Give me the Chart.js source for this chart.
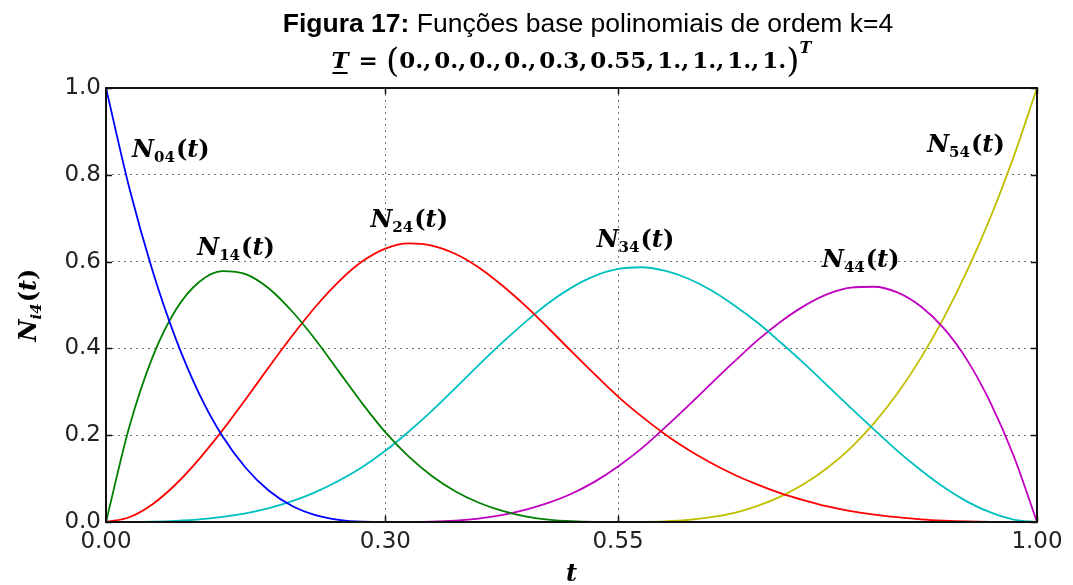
<!DOCTYPE html>
<html>
<head>
<meta charset="utf-8">
<script src="https://cdn.jsdelivr.net/npm/chart.js@4.4.1/dist/chart.umd.min.js"></script>
<style>
  html, body { margin: 0; padding: 0; background: #ffffff; overflow: hidden; }
  #wrap { width: 1073px; height: 585px; position: relative; }
</style>
</head>
<body>
<div id="wrap"><canvas id="chart" width="1073" height="585"></canvas></div>
<script>
// Parameter values t at which the basis functions are tabulated
const tValues = [0, 0.025, 0.05, 0.075, 0.1, 0.125, 0.15, 0.175, 0.2, 0.225,
                 0.25, 0.275, 0.3, 0.325, 0.35, 0.375, 0.4, 0.425, 0.45, 0.475,
                 0.5, 0.525, 0.55, 0.575, 0.6, 0.625, 0.65, 0.675, 0.7, 0.725,
                 0.75, 0.775, 0.8, 0.825, 0.85, 0.875, 0.9, 0.925, 0.95, 0.975, 1];

// Cubic B-spline basis functions N_i4(t), knot vector (0,0,0,0,0.3,0.55,1,1,1,1)
const n04 = [1, 0.770, 0.579, 0.422, 0.296, 0.198, 0.125, 0.072, 0.037, 0.016,
             0.005, 0.0006, 0, 0, 0, 0, 0, 0, 0, 0,
             0, 0, 0, 0, 0, 0, 0, 0, 0, 0,
             0, 0, 0, 0, 0, 0, 0, 0, 0, 0, 0];
const n14 = [0, 0.219, 0.380, 0.489, 0.553, 0.578, 0.571, 0.538, 0.485, 0.420,
             0.347, 0.274, 0.207, 0.151, 0.106, 0.071, 0.045, 0.026, 0.013, 0.0056,
             0.0017, 0.0002, 0, 0, 0, 0, 0, 0, 0, 0,
             0, 0, 0, 0, 0, 0, 0, 0, 0, 0, 0];
const n24 = [0, 0.011, 0.041, 0.087, 0.145, 0.211, 0.283, 0.357, 0.429, 0.496,
             0.554, 0.600, 0.630, 0.642, 0.637, 0.618, 0.587, 0.546, 0.499, 0.447,
             0.393, 0.340, 0.289, 0.244, 0.203, 0.167, 0.136, 0.109, 0.086, 0.066,
             0.050, 0.036, 0.025, 0.017, 0.011, 0.0062, 0.0032, 0.0013, 0.0004, 0.00005, 0];
const n34 = [0, 0.0001, 0.0008, 0.0026, 0.006, 0.012, 0.020, 0.032, 0.048, 0.069,
             0.095, 0.126, 0.164, 0.208, 0.256, 0.308, 0.361, 0.412, 0.460, 0.504,
             0.540, 0.567, 0.583, 0.587, 0.579, 0.561, 0.534, 0.499, 0.459, 0.413,
             0.365, 0.314, 0.263, 0.213, 0.164, 0.120, 0.080, 0.047, 0.022, 0.0057, 0];
const n44 = [0, 0, 0, 0, 0, 0, 0, 0, 0, 0,
             0, 0, 0, 0.0001, 0.001, 0.0034, 0.008, 0.016, 0.028, 0.044,
             0.065, 0.093, 0.128, 0.169, 0.217, 0.267, 0.319, 0.370, 0.419, 0.462,
             0.498, 0.525, 0.540, 0.542, 0.529, 0.497, 0.446, 0.373, 0.275, 0.152, 0];
const n54 = [0, 0, 0, 0, 0, 0, 0, 0, 0, 0,
             0, 0, 0, 0, 0, 0, 0, 0, 0, 0,
             0, 0, 0, 0.0002, 0.0014, 0.0046, 0.011, 0.021, 0.037, 0.059,
             0.088, 0.125, 0.171, 0.228, 0.296, 0.377, 0.471, 0.579, 0.702, 0.842, 1];

// Axis ticks: the x ticks sit on the distinct knot values
const xTickValues = [0, 0.3, 0.55, 1.0];
const xTickLabels = ['0.00', '0.30', '0.55', '1.00'];
const yTickValues = [0, 0.2, 0.4, 0.6, 0.8, 1.0];
const yTickLabels = ['0.0', '0.2', '0.4', '0.6', '0.8', '1.0'];

// Curve names (subscripts) and colours
const seriesSubs = ['04', '14', '24', '34', '44', '54'];
const seriesColors = ['#0000ff', '#008000', '#ff0000', '#00bfbf', '#bf00bf', '#bfbf00'];
const seriesValues = [n04, n14, n24, n34, n44, n54];

// Where each curve name is written, in data coordinates (left edge, baseline)
const labelAnchors = [
  { t: 0.028, v: 0.842 },
  { t: 0.098, v: 0.615 },
  { t: 0.284, v: 0.680 },
  { t: 0.527, v: 0.634 },
  { t: 0.769, v: 0.588 },
  { t: 0.882, v: 0.853 }
];

const MATH = '"DejaVu Serif", serif';
const SANS = '"Liberation Sans", Arial, sans-serif';
const TICKFONT = '"DejaVu Sans", sans-serif';

// Rich-text helpers: a run is a list of pieces laid out left to right
function measureRuns(ctx, runs) {
  let w = 0;
  for (const r of runs) {
    ctx.font = r.font;
    r.w = ctx.measureText(r.text).width + (r.gap || 0);
    w += r.w;
  }
  return w;
}
function drawRuns(ctx, runs, x, baseline) {
  ctx.textAlign = 'left';
  ctx.textBaseline = 'alphabetic';
  for (const r of runs) {
    ctx.font = r.font;
    ctx.fillStyle = r.color || '#000';
    ctx.fillText(r.text, x, baseline + (r.dy || 0));
    if (r.underline) {
      ctx.fillRect(x + 1, baseline + 4, ctx.measureText(r.text).width - 2, 2);
    }
    x += r.w;
  }
}

function curveNameRuns(sub) {
  return [
    { text: 'N', font: 'italic bold 24px ' + MATH },
    { text: sub, font: 'bold 15px ' + MATH, dy: 5, gap: 1 },
    { text: '(', font: 'bold 24px ' + MATH },
    { text: 't', font: 'italic bold 24px ' + MATH },
    { text: ')', font: 'bold 24px ' + MATH }
  ];
}

const decorPlugin = {
  id: 'decor',
  afterDatasetsDraw(chart) {
    const { ctx, chartArea: a, scales } = chart;
    ctx.save();
    // frame
    ctx.strokeStyle = '#111';
    ctx.lineWidth = 2;
    ctx.strokeRect(a.left, a.top, a.right - a.left, a.bottom - a.top);
    // inward tick marks on all four sides
    ctx.lineWidth = 1.5;
    ctx.beginPath();
    const L = 6;
    for (const v of xTickValues) {
      const px = Math.round(scales.x.getPixelForValue(v)) + 0.5;
      ctx.moveTo(px, a.bottom); ctx.lineTo(px, a.bottom - L);
      ctx.moveTo(px, a.top); ctx.lineTo(px, a.top + L);
    }
    for (const v of yTickValues) {
      const py = Math.round(scales.y.getPixelForValue(v)) + 0.5;
      ctx.moveTo(a.left, py); ctx.lineTo(a.left + L, py);
      ctx.moveTo(a.right, py); ctx.lineTo(a.right - L, py);
    }
    ctx.stroke();

    // curve names
    seriesSubs.forEach((sub, i) => {
      const runs = curveNameRuns(sub);
      measureRuns(ctx, runs);
      const px = scales.x.getPixelForValue(labelAnchors[i].t);
      const py = scales.y.getPixelForValue(labelAnchors[i].v);
      drawRuns(ctx, runs, px, py);
    });

    // x axis label
    const cx = (a.left + a.right) / 2;
    ctx.fillStyle = '#000';
    ctx.font = 'italic bold 24px ' + MATH;
    ctx.textAlign = 'center';
    ctx.textBaseline = 'alphabetic';
    ctx.fillText('t', cx, 581);

    // y axis label, rotated
    const yRuns = [
      { text: 'N', font: 'italic bold 24px ' + MATH },
      { text: 'i4', font: 'italic bold 15px ' + MATH, dy: 5, gap: 1 },
      { text: '(', font: 'bold 24px ' + MATH },
      { text: 't', font: 'italic bold 24px ' + MATH },
      { text: ')', font: 'bold 24px ' + MATH }
    ];
    const yw = measureRuns(ctx, yRuns);
    ctx.translate(36, (a.top + a.bottom) / 2);
    ctx.rotate(-Math.PI / 2);
    drawRuns(ctx, yRuns, -yw / 2, 0);
    ctx.restore();

    // titles
    ctx.save();
    const line1 = [
      { text: 'Figura 17:', font: 'bold 26.5px ' + SANS },
      { text: ' Funções base polinomiais de ordem k=4', font: '26.5px ' + SANS }
    ];
    const w1 = measureRuns(ctx, line1);
    drawRuns(ctx, line1, 588 - w1 / 2, 32);

    const knots = ['0.', '0.', '0.', '0.', '0.3', '0.55', '1.', '1.', '1.', '1.'];
    const line2 = [
      { text: 'T', font: 'italic bold 23px ' + MATH, underline: true, gap: 2 },
      { text: ' = ', font: 'bold 23px ' + MATH },
      { text: '(', font: '34px ' + MATH, dy: 4 }
    ];
    knots.forEach((k, i) => {
      const last = i === knots.length - 1;
      line2.push({ text: k + (last ? '' : ','), font: 'bold 23px ' + MATH, gap: last ? 0 : 3 });
    });
    line2.push({ text: ')', font: '34px ' + MATH, dy: 4 });
    line2.push({ text: 'T', font: 'italic bold 16px ' + MATH, dy: -15 });
    const w2 = measureRuns(ctx, line2);
    drawRuns(ctx, line2, cx - w2 / 2, 68);
    ctx.restore();
  }
};

const ctx = document.getElementById('chart').getContext('2d');
new Chart(ctx, {
  type: 'line',
  data: {
    datasets: seriesValues.map((vals, i) => ({
      label: 'N' + seriesSubs[i],
      data: tValues.map((t, j) => ({ x: t, y: vals[j] })),
      borderColor: seriesColors[i],
      backgroundColor: seriesColors[i],
      borderWidth: 1.8,
      pointRadius: 0,
      fill: false,
      cubicInterpolationMode: 'monotone'
    }))
  },
  options: {
    responsive: false,
    animation: false,
    devicePixelRatio: 1,
    layout: { padding: { top: 88, right: 36, left: 0, bottom: 0 } },
    plugins: { legend: { display: false }, tooltip: { enabled: false }, title: { display: false } },
    scales: {
      x: {
        type: 'linear',
        min: 0,
        max: 1,
        afterBuildTicks: s => { s.ticks = xTickValues.map(v => ({ value: v })); },
        afterFit: s => { s.height = 63; },
        ticks: {
          callback: (v, i) => xTickLabels[i],
          font: { family: TICKFONT, size: 23 },
          color: '#222',
          padding: 6,
          maxRotation: 0,
          autoSkip: false
        },
        grid: { color: 'rgba(0,0,0,0.55)', lineWidth: 1, drawTicks: false },
        border: { display: false, dash: [2, 4] }
      },
      y: {
        type: 'linear',
        min: 0,
        max: 1,
        afterBuildTicks: s => { s.ticks = yTickValues.map(v => ({ value: v })); },
        afterFit: s => { s.width = 106; },
        ticks: {
          callback: (v, i) => yTickLabels[i],
          font: { family: TICKFONT, size: 23 },
          color: '#222',
          padding: 5
        },
        grid: { color: 'rgba(0,0,0,0.55)', lineWidth: 1, drawTicks: false },
        border: { display: false, dash: [2, 4] }
      }
    }
  },
  plugins: [decorPlugin]
});
</script>
</body>
</html>
